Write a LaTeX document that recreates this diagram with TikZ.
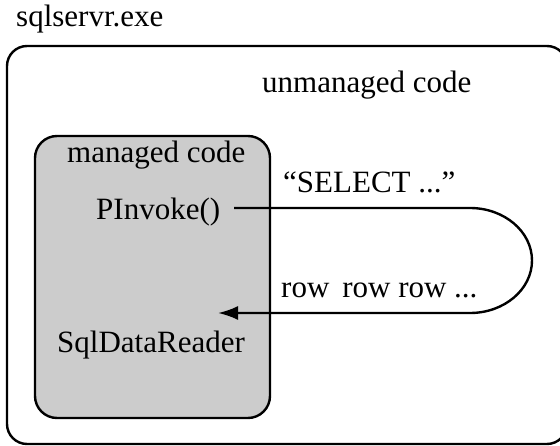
\documentclass[tikz,border=0pt]{standalone}
\usepackage{fontspec}
\setmainfont{Liberation Serif}
\usetikzlibrary{arrows.meta}
\definecolor{mgray}{RGB}{204,204,204}
\begin{document}
\begin{tikzpicture}[x=1pt,y=-1pt,
  lbl/.style={anchor=base west,inner sep=0pt,font=\fontsize{31}{36}\selectfont},
  outerbox/.style={draw,line width=2.4pt,rounded corners=20pt,inner sep=0pt},
  innerbox/.style={draw,line width=2.4pt,rounded corners=22pt,fill=mgray,inner sep=0pt},
  conn/.style={line width=2.4pt,-{Latex[length=20pt,width=14pt]}}]
\useasboundingbox (0,0) rectangle (560,446);
\clip (0,0) rectangle (560,446);
\node[outerbox,minimum width=560pt,minimum height=398pt] (outer) at (287,245) {};
\node[innerbox,minimum width=235pt,minimum height=282pt] (inner) at (152.5,277) {};
\node[lbl] (title) at (16,27) {sqlservr.exe};
\node[lbl] (unm) at (262,93) {unmanaged code};
\node[lbl] (man) at (67,163) {managed code};
\node[lbl] (pinv) at (96,220) {PInvoke()};
\node[lbl] (sel) at (283,193) {“SELECT ...”};
\node[lbl] (rows) at (281,298) {row\, row row ...};
\node[lbl] (sdr) at (57,353) {SqlDataReader};
\coordinate (a) at (234,208);
\coordinate (b) at (218,313);
\draw[conn] (a) -- (470,208)
  .. controls (504.2,208) and (532,231.5) .. (532,260.5)
  .. controls (532,289.5) and (504.2,313) .. (470,313) -- (b);
\end{tikzpicture}
\end{document}
